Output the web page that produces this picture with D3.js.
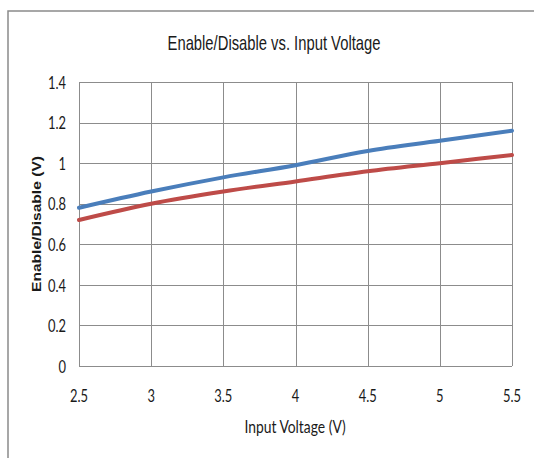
<!DOCTYPE html>
<html>
  <head>
    <meta charset="utf-8">
    <script src="https://d3js.org/d3.v7.min.js"></script>
    <style>
      body { margin: 0; background: #fff; }
      text { fill: #1a1a1a; }
    </style>
  </head>
  <body>
    <div id="chart"></div>
    <script>
      // data
      const inputVoltage = [2.5, 3, 3.5, 4, 4.5, 5, 5.5];
      const enableV  = [0.78, 0.86, 0.93, 0.99, 1.06, 1.11, 1.16];
      const disableV = [0.72, 0.80, 0.86, 0.91, 0.96, 1.00, 1.04];
      const xTicks = [2.5, 3, 3.5, 4, 4.5, 5, 5.5];
      const yTicks = [0, 0.2, 0.4, 0.6, 0.8, 1, 1.2, 1.4];
      const yTickLabels = ["0", "0.2", "0.4", "0.6", "0.8", "1", "1.2", "1.4"];

      const width = 534, height = 458;
      const margin = {top: 82, right: 22, bottom: 92, left: 79};
      const arial = "'Liberation Sans', Arial, sans-serif";
      const calibriLike = "Lato, 'Open Sans', sans-serif";

      const svg = d3.select("#chart").append("svg")
        .attr("width", width)
        .attr("height", height);

      // outer chart frame (runs off the right and bottom)
      svg.append("rect")
        .attr("x", 8).attr("y", 11)
        .attr("width", 600).attr("height", 600)
        .attr("fill", "none")
        .attr("stroke", "#8a8a8a")
        .attr("stroke-width", 1.5);

      const x = d3.scaleLinear()
        .domain([2.5, 5.5])
        .range([margin.left, width - margin.right]);
      const y = d3.scaleLinear()
        .domain([0, 1.4])
        .range([height - margin.bottom, margin.top]);

      // grid
      svg.append("g")
        .selectAll("line")
        .data(yTicks)
        .join("line")
          .attr("x1", x(2.5)).attr("x2", x(5.5))
          .attr("y1", d => Math.round(y(d)) + 0.5)
          .attr("y2", d => Math.round(y(d)) + 0.5)
          .attr("stroke", "#8c8c8c");
      svg.append("g")
        .selectAll("line")
        .data(xTicks)
        .join("line")
          .attr("x1", d => Math.round(x(d)) + 0.5)
          .attr("x2", d => Math.round(x(d)) + 0.5)
          .attr("y1", y(0)).attr("y2", y(1.4))
          .attr("stroke", "#8c8c8c");

      // tick labels (squeezed, reference font is narrow)
      svg.append("g")
        .selectAll("text")
        .data(yTicks)
        .join("text")
          .attr("transform", d => `translate(66,${y(d)}) scale(0.76,1)`)
          .attr("text-anchor", "end")
          .attr("dominant-baseline", "central")
          .style("font-family", calibriLike)
          .style("font-size", "17px")
          .text((d, i) => yTickLabels[i]);

      svg.append("g")
        .selectAll("text")
        .data(xTicks)
        .join("text")
          .attr("transform", d => `translate(${x(d)},402) scale(0.76,1)`)
          .attr("text-anchor", "middle")
          .style("font-family", calibriLike)
          .style("font-size", "17px")
          .text(d => d);

      // series lines
      const line = d3.line()
        .x(d => x(d[0]))
        .y(d => y(d[1]))
        .curve(d3.curveMonotoneX);

      const series = [
        {values: enableV, color: "#4a7ebb"},
        {values: disableV, color: "#be4b48"}
      ];
      svg.append("g")
        .selectAll("path")
        .data(series)
        .join("path")
          .attr("d", s => line(inputVoltage.map((v, i) => [v, s.values[i]])))
          .attr("fill", "none")
          .attr("stroke", s => s.color)
          .attr("stroke-width", 4)
          .attr("stroke-linecap", "round");

      // titles
      svg.append("text")
        .attr("transform", "translate(274,50) scale(0.74,1)")
        .attr("text-anchor", "middle")
        .style("font-family", arial)
        .style("font-size", "20px")
        .text("Enable/Disable vs. Input Voltage");

      svg.append("text")
        .attr("transform", "translate(295,433) scale(0.84,1.08)")
        .attr("text-anchor", "middle")
        .style("font-family", calibriLike)
        .style("font-size", "16.5px")
        .text("Input Voltage (V)");

      svg.append("text")
        .attr("transform", "translate(36,224) scale(1,1.2) rotate(-90)")
        .attr("text-anchor", "middle")
        .attr("dominant-baseline", "central")
        .style("font-family", arial)
        .style("font-size", "13px")
        .style("font-weight", "bold")
        .text("Enable/Disable (V)");
    </script>
  </body>
</html>
